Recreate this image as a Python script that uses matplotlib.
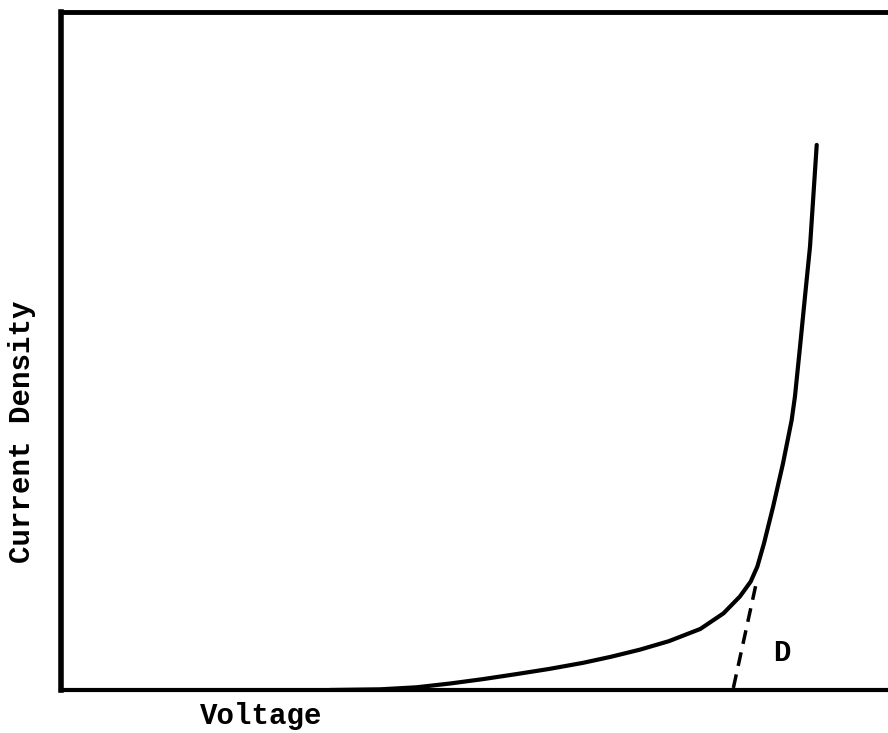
import numpy as np
import matplotlib
matplotlib.use("Agg")
import matplotlib.pyplot as plt

# values (arbitrary units, 0-100 on both axes)
voltage = [32.5, 38.6, 43.0, 47.0, 51.0, 55.1, 59.0, 63.1, 66.5, 70.0,
           73.5, 77.3, 80.1, 82.1, 83.4, 84.2, 85.0, 86.1, 87.3, 88.35,
           88.75, 89.36, 89.96, 90.57, 90.97, 91.38]
current = [0.0, 0.1, 0.4, 0.95, 1.6, 2.35, 3.1, 4.0, 4.9, 5.95,
           7.2, 9.0, 11.3, 13.8, 16.0, 18.2, 21.6, 27.0, 33.4, 39.8,
           43.3, 50.6, 58.0, 65.4, 72.8, 80.4]

# dashed tangent line "D"
tangent_v = [81.3, 84.2]
tangent_j = [0.3, 16.5]
label_d = (87.2, 5.5)

font = "Liberation Mono"

fig = plt.figure(figsize=(8.88, 7.33), dpi=100)
ax = fig.add_axes([61 / 888, 43 / 733, 827 / 888, 678 / 733])

ax.plot(voltage, current, color="black", linewidth=3.0,
        solid_capstyle="round", solid_joinstyle="round")
ax.plot(tangent_v, tangent_j, color="black", linewidth=2.5,
        linestyle=(0, (4, 2.5)))
ax.text(label_d[0], label_d[1], "D", fontsize=21, fontweight="bold",
        family=font, ha="center", va="center")

ax.set_xlim(0, 100)
ax.set_ylim(0, 100)
ax.set_xticks([])
ax.set_yticks([])

ax.spines["right"].set_visible(False)
ax.spines["left"].set_linewidth(4.0)
ax.spines["top"].set_linewidth(3.5)
ax.spines["bottom"].set_linewidth(3.0)

ax.set_xlabel("Voltage", fontsize=21, fontweight="bold", family=font, va="center")
ax.set_ylabel("Current Density", fontsize=21, fontweight="bold", family=font, va="center")
ax.xaxis.set_label_coords(0.242, -0.039)
ax.yaxis.set_label_coords(-0.047, 0.381)

fig.savefig("out.png", dpi=100)
